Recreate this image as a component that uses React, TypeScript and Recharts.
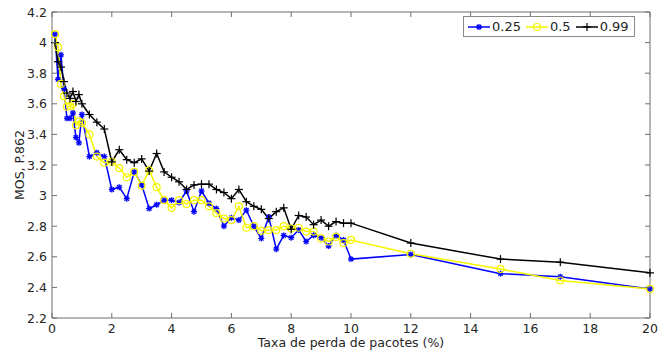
import { Legend, Line, LineChart, ReferenceLine, XAxis, YAxis } from 'recharts'

// loss rate (%) at which each point was measured
const LOSS = [
  0.1, 0.2, 0.3, 0.4, 0.5, 0.6, 0.7, 0.8, 0.9, 1,
  1.25, 1.5, 1.75, 2, 2.25, 2.5, 2.75, 3, 3.25, 3.5, 3.75, 4,
  4.25, 4.5, 4.75, 5, 5.25, 5.5, 5.75, 6, 6.25, 6.5, 6.75, 7,
  7.25, 7.5, 7.75, 8, 8.25, 8.5, 8.75, 9, 9.25, 9.5, 9.75, 10,
  12, 15, 17, 20,
]

const MOS_025 = [
  4.055, 3.76, 3.92, 3.7, 3.505, 3.505, 3.54, 3.38, 3.345, 3.53,
  3.255, 3.28, 3.255, 3.04, 3.055, 2.98, 3.155, 3.07, 2.915, 2.94, 2.97, 2.97,
  2.955, 3.03, 2.895, 3.03, 2.95, 2.915, 2.8, 2.855, 2.84, 2.905, 2.8, 2.72,
  2.86, 2.65, 2.74, 2.725, 2.775, 2.7, 2.74, 2.725, 2.67, 2.74, 2.71, 2.585,
  2.615, 2.49, 2.47, 2.39,
]

const MOS_05 = [
  4.055, 3.97, 3.73, 3.65, 3.58, 3.585, 3.6, 3.46, 3.485, 3.475,
  3.4, 3.255, 3.215, 3.22, 3.18, 3.12, 3.155, 3.065, 3.165, 3.055, 2.97, 2.92,
  2.97, 2.945, 2.97, 2.97, 2.93, 2.885, 2.85, 2.84, 2.93, 2.79, 2.8, 2.77,
  2.775, 2.775, 2.8, 2.785, 2.79, 2.765, 2.765, 2.72, 2.7, 2.73, 2.69, 2.71,
  2.62, 2.52, 2.445, 2.39,
]

const MOS_099 = [
  4.0, 3.875, 3.84, 3.745, 3.67, 3.635, 3.68, 3.615, 3.66, 3.6,
  3.53, 3.48, 3.435, 3.22, 3.3, 3.235, 3.215, 3.24, 3.16, 3.275, 3.155, 3.12,
  3.09, 3.04, 3.07, 3.075, 3.075, 3.04, 3.02, 2.98, 3.04, 2.96, 2.93, 2.91,
  2.85, 2.895, 2.92, 2.78, 2.87, 2.86, 2.81, 2.84, 2.8, 2.83, 2.82, 2.82,
  2.69, 2.585, 2.565, 2.495,
]

const X_TICKS = [0, 2, 4, 6, 8, 10, 12, 14, 16, 18, 20]
const Y_TICKS = [2.2, 2.4, 2.6, 2.8, 3, 3.2, 3.4, 3.6, 3.8, 4, 4.2]

const SERIES_KEYS = ['s025', 's05', 's099']
const SERIES_NAMES = ['0.25', '0.5', '0.99']
const SERIES_COLORS = ['#0000ff', '#f5f500', '#000000']
const SERIES_MARKERS = ['star', 'circle', 'plus']

const data = LOSS.map((x, i) => ({ x, s025: MOS_025[i], s05: MOS_05[i], s099: MOS_099[i] }))

const W = 668
const H = 352
const MARGIN = { top: 12, right: 18, left: 0, bottom: 0 }
const Y_AXIS_W = 52
const X_AXIS_H = 34
const PLOT_W = W - MARGIN.left - MARGIN.right - Y_AXIS_W
const PLOT_H = H - MARGIN.top - MARGIN.bottom - X_AXIS_H
const FRAME = '#6e6e6e'
const TEXT = '#262626'
const FONT = '"DejaVu Sans", sans-serif'
const TICK_LEN = 5

function Marker({ kind, cx, cy, color }: { kind: string; cx: number; cy: number; color: string }) {
  if (kind === 'circle') {
    return <circle cx={cx} cy={cy} r={3.5} fill="none" stroke={color} strokeWidth={1.2} />
  }
  if (kind === 'plus') {
    const s = 4
    return (
      <g stroke={color} strokeWidth={1.2}>
        <line x1={cx - s} y1={cy} x2={cx + s} y2={cy} />
        <line x1={cx} y1={cy - s} x2={cx} y2={cy + s} />
      </g>
    )
  }
  const s = 3
  const d = 2.2
  return (
    <g stroke={color} strokeWidth={1.3}>
      <line x1={cx - s} y1={cy} x2={cx + s} y2={cy} />
      <line x1={cx} y1={cy - s} x2={cx} y2={cy + s} />
      <line x1={cx - d} y1={cy - d} x2={cx + d} y2={cy + d} />
      <line x1={cx - d} y1={cy + d} x2={cx + d} y2={cy - d} />
    </g>
  )
}

const makeDot = (i: number) => (props: any) => {
  const { cx, cy, index } = props
  return (
    <Marker key={`${SERIES_KEYS[i]}-${index}`} kind={SERIES_MARKERS[i]} cx={cx} cy={cy} color={SERIES_COLORS[i]} />
  )
}

function XTick({ x, y, payload }: any) {
  return (
    <g>
      <line x1={x} y1={y} x2={x} y2={y - TICK_LEN} stroke={FRAME} />
      <line x1={x} y1={y - PLOT_H} x2={x} y2={y - PLOT_H + TICK_LEN} stroke={FRAME} />
      <text x={x} y={y + 14.5} textAnchor="middle" fontSize={12.5} fill={TEXT} fontFamily={FONT}>
        {payload.value}
      </text>
    </g>
  )
}

function YTick({ x, y, payload }: any) {
  return (
    <g>
      <line x1={x} y1={y} x2={x + TICK_LEN} y2={y} stroke={FRAME} />
      <line x1={x + PLOT_W} y1={y} x2={x + PLOT_W - TICK_LEN} y2={y} stroke={FRAME} />
      <text x={x - 5} y={y + 4.5} textAnchor="end" fontSize={12.5} fill={TEXT} fontFamily={FONT}>
        {payload.value}
      </text>
    </g>
  )
}

function LegendBox() {
  return (
    <div
      style={{
        display: 'flex',
        alignItems: 'center',
        border: '1px solid #8a8a8a',
        background: '#fff',
        padding: '2px 5px 2px 4px',
        fontFamily: FONT,
        fontSize: 13,
        color: TEXT,
        lineHeight: '15px',
      }}
    >
      {SERIES_NAMES.map((name, i) => (
        <span key={name} style={{ display: 'flex', alignItems: 'center', marginRight: i < 2 ? 5 : 0 }}>
          <svg width={22} height={12} style={{ marginRight: 2 }}>
            <line x1={0} y1={6} x2={22} y2={6} stroke={SERIES_COLORS[i]} strokeWidth={1.5} />
            <Marker kind={SERIES_MARKERS[i]} cx={11} cy={6} color={SERIES_COLORS[i]} />
          </svg>
          {name}
        </span>
      ))}
    </div>
  )
}

export default function App() {
  return (
    <div style={{ position: 'absolute', left: 0, top: 0, width: W, height: H, background: '#fff' }}>
      <LineChart width={W} height={H} data={data} margin={MARGIN}>
        <XAxis
          dataKey="x"
          type="number"
          domain={[0, 20]}
          ticks={X_TICKS}
          height={X_AXIS_H}
          tickSize={0}
          tickMargin={0}
          tickLine={false}
          interval={0}
          stroke={FRAME}
          tick={<XTick />}
          label={({ viewBox }: any) => (
            <text
              x={viewBox.x + viewBox.width / 2}
              y={viewBox.y + 29}
              textAnchor="middle"
              fontSize={12.5}
              fill={TEXT}
              fontFamily={FONT}
            >
              Taxa de perda de pacotes (%)
            </text>
          )}
        />
        <YAxis
          type="number"
          domain={[2.2, 4.2]}
          ticks={Y_TICKS}
          width={Y_AXIS_W}
          tickSize={0}
          tickMargin={0}
          tickLine={false}
          interval={0}
          stroke={FRAME}
          tick={<YTick />}
          label={({ viewBox }: any) => {
            const cx = viewBox.x + 24
            const cy = viewBox.y + viewBox.height / 2
            return (
              <text
                x={cx}
                y={cy}
                transform={`rotate(-90 ${cx} ${cy})`}
                textAnchor="middle"
                fontSize={12.5}
                fill={TEXT}
                fontFamily={FONT}
              >
                MOS, P.862
              </text>
            )
          }}
        />
        <ReferenceLine y={4.2} stroke={FRAME} />
        <ReferenceLine x={20} stroke={FRAME} />
        {SERIES_KEYS.map((key, i) => (
          <Line
            key={key}
            dataKey={key}
            name={SERIES_NAMES[i]}
            type="linear"
            stroke={SERIES_COLORS[i]}
            strokeWidth={1.5}
            dot={makeDot(i)}
            activeDot={false}
            isAnimationActive={false}
          />
        ))}
        <Legend
          layout="horizontal"
          verticalAlign="middle"
          align="center"
          content={<LegendBox />}
          wrapperStyle={{ left: 463, top: 16, width: 'auto', height: 'auto' }}
        />
      </LineChart>
    </div>
  )
}
